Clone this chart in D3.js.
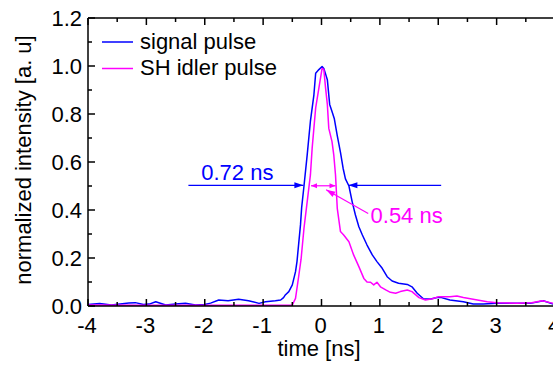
<!DOCTYPE html>
<html>
<head>
<meta charset="utf-8">
<script src="https://cdn.jsdelivr.net/npm/d3@7"></script>
<style>
  body { margin: 0; background: #fff; }
  text { font-family: "Liberation Sans", Arial, sans-serif; }
</style>
</head>
<body>
<div id="chart"></div>
<script>
// signal pulse (blue), time in ns / normalized intensity
var signalT = [-4.0, -3.8, -3.6, -3.45, -3.3, -3.19, -3.05, -2.95, -2.84, -2.67, -2.5, -2.33, -2.16, -2.0, -1.9,
  -1.76, -1.6, -1.42, -1.25, -1.07, -0.96, -0.79, -0.7, -0.65, -0.62, -0.56, -0.5, -0.445, -0.42, -0.36, -0.34,
  -0.3, -0.245, -0.19, -0.13, -0.1, -0.045, 0.01, 0.04, 0.1, 0.14, 0.18, 0.22, 0.27, 0.325, 0.37, 0.41, 0.47,
  0.525, 0.58, 0.64, 0.7, 0.78, 0.87, 0.95, 1.04, 1.125, 1.21, 1.32, 1.47, 1.55, 1.64, 1.75, 1.87, 1.98, 2.04,
  2.2, 2.43, 2.6, 2.77, 3.0, 3.29, 3.58, 3.8, 3.97, 4.0];
var signalI = [0.006, 0.010, 0.004, 0.008, 0.012, 0.014, 0.006, 0.008, 0.018, 0.004, 0.008, 0.011, 0.004, 0.006, 0.012,
  0.025, 0.022, 0.028, 0.022, 0.011, 0.018, 0.022, 0.025, 0.035, 0.046, 0.06, 0.088, 0.143, 0.185, 0.338, 0.41,
  0.50, 0.63, 0.77, 0.88, 0.97, 0.985, 0.998, 0.99, 0.943, 0.84, 0.81, 0.78, 0.71, 0.64, 0.574, 0.53, 0.50,
  0.435, 0.38, 0.33, 0.296, 0.254, 0.213, 0.185, 0.157, 0.122, 0.104, 0.095, 0.09, 0.08, 0.053, 0.029, 0.029, 0.035, 0.036,
  0.025, 0.018, 0.008, 0.008, 0.011, 0.011, 0.011, 0.022, 0.008, 0.008];

// SH idler pulse (magenta)
var idlerT = [-4.0, -3.0, -2.0, -1.0, -0.55, -0.5, -0.445, -0.39, -0.35, -0.3, -0.245, -0.19, -0.16, -0.1, -0.045,
  0.01, 0.04, 0.07, 0.1, 0.125, 0.18, 0.21, 0.24, 0.27, 0.325, 0.38, 0.47, 0.55, 0.64, 0.725, 0.78, 0.84, 0.895,
  0.95, 1.01, 1.1, 1.18, 1.27, 1.35, 1.47, 1.55, 1.67, 1.78, 1.9, 2.01, 2.2, 2.32, 2.43, 2.67, 2.84, 3.0, 3.35,
  3.6, 3.78, 3.92, 4.0];
var idlerI = [0.004, 0.003, 0.003, 0.003, 0.003, 0.004, 0.032, 0.125, 0.195, 0.324, 0.435, 0.546, 0.658, 0.825, 0.908,
  0.99, 0.985, 0.908, 0.84, 0.74, 0.685, 0.63, 0.546, 0.407, 0.31, 0.296, 0.268, 0.213, 0.164, 0.115, 0.10, 0.099, 0.088,
  0.099, 0.08, 0.067, 0.057, 0.053, 0.06, 0.067, 0.06, 0.035, 0.025, 0.03, 0.039, 0.039, 0.042, 0.035, 0.025, 0.018, 0.014, 0.011,
  0.014, 0.022, 0.014, 0.01];

var xTicks = [-4, -3, -2, -1, 0, 1, 2, 3, 4];
var yTicks = [0.0, 0.2, 0.4, 0.6, 0.8, 1.0, 1.2];
var seriesNames = ["signal pulse", "SH idler pulse"];
var seriesColors = ["#0000ff", "#ff00ff"];

function main()
{
    var svgWidth = 553, svgHeight = 366;
    var left = 88, top = 18, plotW = 467, plotH = 288;

    var svg = d3.select("#chart").append("svg")
        .attr("width", svgWidth)
        .attr("height", svgHeight);

    var xScale = d3.scaleLinear().domain([-4, 4]).range([left, left + plotW]);
    var yScale = d3.scaleLinear().domain([0, 1.2]).range([top + plotH, top]);

    var fontSize = "22px";

    // curves
    var line = d3.line()
        .x(function(d) { return xScale(d[0]); })
        .y(function(d) { return yScale(d[1]); });

    var sets = [d3.zip(signalT, signalI), d3.zip(idlerT, idlerI)];
    // draw magenta first? blue drawn first, magenta on top
    sets.forEach(function(s, i) {
        svg.append("path")
            .datum(s)
            .attr("fill", "none")
            .attr("stroke", seriesColors[i])
            .attr("stroke-width", 1.5)
            .attr("stroke-linejoin", "round")
            .attr("d", line);
    });

    // axes (ticks inward)
    var yMinor = d3.range(0.1, 1.2, 0.2);
    var xMinor = d3.range(-3.5, 4, 1);

    var axisG = svg.append("g").attr("stroke", "#000").attr("stroke-width", 1.5);
    axisG.append("line").attr("x1", left).attr("x2", left).attr("y1", top).attr("y2", top + plotH);
    axisG.append("line").attr("x1", left).attr("x2", left + plotW).attr("y1", top + plotH).attr("y2", top + plotH);
    axisG.append("line").attr("x1", left).attr("x2", left + plotW).attr("y1", top).attr("y2", top);
    axisG.append("line").attr("x1", left + plotW).attr("x2", left + plotW).attr("y1", top).attr("y2", top + plotH);

    yTicks.forEach(function(v) {
        axisG.append("line").attr("x1", left).attr("x2", left + 7).attr("y1", yScale(v)).attr("y2", yScale(v));
    });
    yMinor.forEach(function(v) {
        axisG.append("line").attr("x1", left).attr("x2", left + 4).attr("y1", yScale(v)).attr("y2", yScale(v));
    });
    xTicks.forEach(function(t) {
        axisG.append("line").attr("x1", xScale(t)).attr("x2", xScale(t)).attr("y1", top + plotH).attr("y2", top + plotH - 7);
        axisG.append("line").attr("x1", xScale(t)).attr("x2", xScale(t)).attr("y1", top).attr("y2", top + 7);
    });
    xMinor.forEach(function(t) {
        axisG.append("line").attr("x1", xScale(t)).attr("x2", xScale(t)).attr("y1", top + plotH).attr("y2", top + plotH - 4);
        axisG.append("line").attr("x1", xScale(t)).attr("x2", xScale(t)).attr("y1", top).attr("y2", top + 4);
    });

    // tick labels
    svg.selectAll(".ylab").data(yTicks).enter().append("text")
        .attr("x", left - 6)
        .attr("y", function(d) { return yScale(d) + 8; })
        .attr("text-anchor", "end")
        .attr("font-size", fontSize)
        .text(function(d) { return d3.format(".1f")(d); });

    svg.selectAll(".xlab").data(xTicks).enter().append("text")
        .attr("x", function(d) { return xScale(d) - 1; })
        .attr("y", 333)
        .attr("text-anchor", "middle")
        .attr("font-size", fontSize)
        .text(function(d) { return String(d); });

    // axis titles
    svg.append("text")
        .attr("transform", "translate(31, 160) rotate(-90)")
        .attr("text-anchor", "middle")
        .attr("font-size", fontSize)
        .text("normalized intensity [a. u]");

    svg.append("text")
        .attr("x", 319)
        .attr("y", 356)
        .attr("text-anchor", "middle")
        .attr("font-size", fontSize)
        .text("time [ns]");

    // legend
    seriesNames.forEach(function(name, i) {
        var ly = 42 + i * 26.5;
        svg.append("line")
            .attr("x1", 102).attr("x2", 133).attr("y1", ly).attr("y2", ly)
            .attr("stroke", seriesColors[i]).attr("stroke-width", 1.5);
        svg.append("text")
            .attr("x", 140).attr("y", ly + 6.5)
            .attr("font-size", fontSize)
            .text(name);
    });

    // FWHM annotations
    function arrowHead(g, tipX, tipY, dir, len, half, color) {
        g.append("path")
            .attr("d", "M" + tipX + "," + tipY + "L" + (tipX - dir * len) + "," + (tipY - half) +
                "L" + (tipX - dir * len) + "," + (tipY + half) + "Z")
            .attr("fill", color);
    }

    var ann = svg.append("g");
    var yHalf = yScale(0.503);
    var blue = seriesColors[0], mag = seriesColors[1];

    // blue: 0.72 ns
    ann.append("line").attr("x1", xScale(-2.28)).attr("x2", xScale(-0.31)).attr("y1", yHalf).attr("y2", yHalf)
        .attr("stroke", blue).attr("stroke-width", 1.2);
    arrowHead(ann, xScale(-0.31), yHalf, 1, 9, 3, blue);
    ann.append("line").attr("x1", xScale(2.05)).attr("x2", xScale(0.46)).attr("y1", yHalf).attr("y2", yHalf)
        .attr("stroke", blue).attr("stroke-width", 1.2);
    arrowHead(ann, xScale(0.46), yHalf, -1, 9, 3, blue);
    ann.append("text")
        .attr("x", xScale(-2.06)).attr("y", yScale(0.525))
        .attr("font-size", fontSize)
        .attr("fill", blue)
        .text("0.72 ns");

    // magenta: 0.54 ns
    var y2 = yHalf + 0.5;
    ann.append("line").attr("x1", xScale(-0.18)).attr("x2", xScale(0.24)).attr("y1", y2).attr("y2", y2)
        .attr("stroke", mag).attr("stroke-width", 1.2);
    arrowHead(ann, xScale(-0.18), y2, -1, 6, 2.5, mag);
    arrowHead(ann, xScale(0.24), y2, 1, 6, 2.5, mag);
    var p0 = [xScale(0.80), yScale(0.385)], p1 = [xScale(0.08), yScale(0.484)];
    ann.append("line").attr("x1", p0[0]).attr("y1", p0[1]).attr("x2", p1[0]).attr("y2", p1[1])
        .attr("stroke", mag).attr("stroke-width", 1.2);
    var ang = Math.atan2(p1[1] - p0[1], p1[0] - p0[0]) * 180 / Math.PI;
    ann.append("path")
        .attr("d", "M0,0L-9,-3L-9,3Z")
        .attr("fill", mag)
        .attr("transform", "translate(" + p1[0] + "," + p1[1] + ") rotate(" + ang + ")");
    ann.append("text")
        .attr("x", xScale(0.84)).attr("y", yScale(0.345))
        .attr("font-size", fontSize)
        .attr("fill", mag)
        .text("0.54 ns");
}
main();
</script>
</body>
</html>
